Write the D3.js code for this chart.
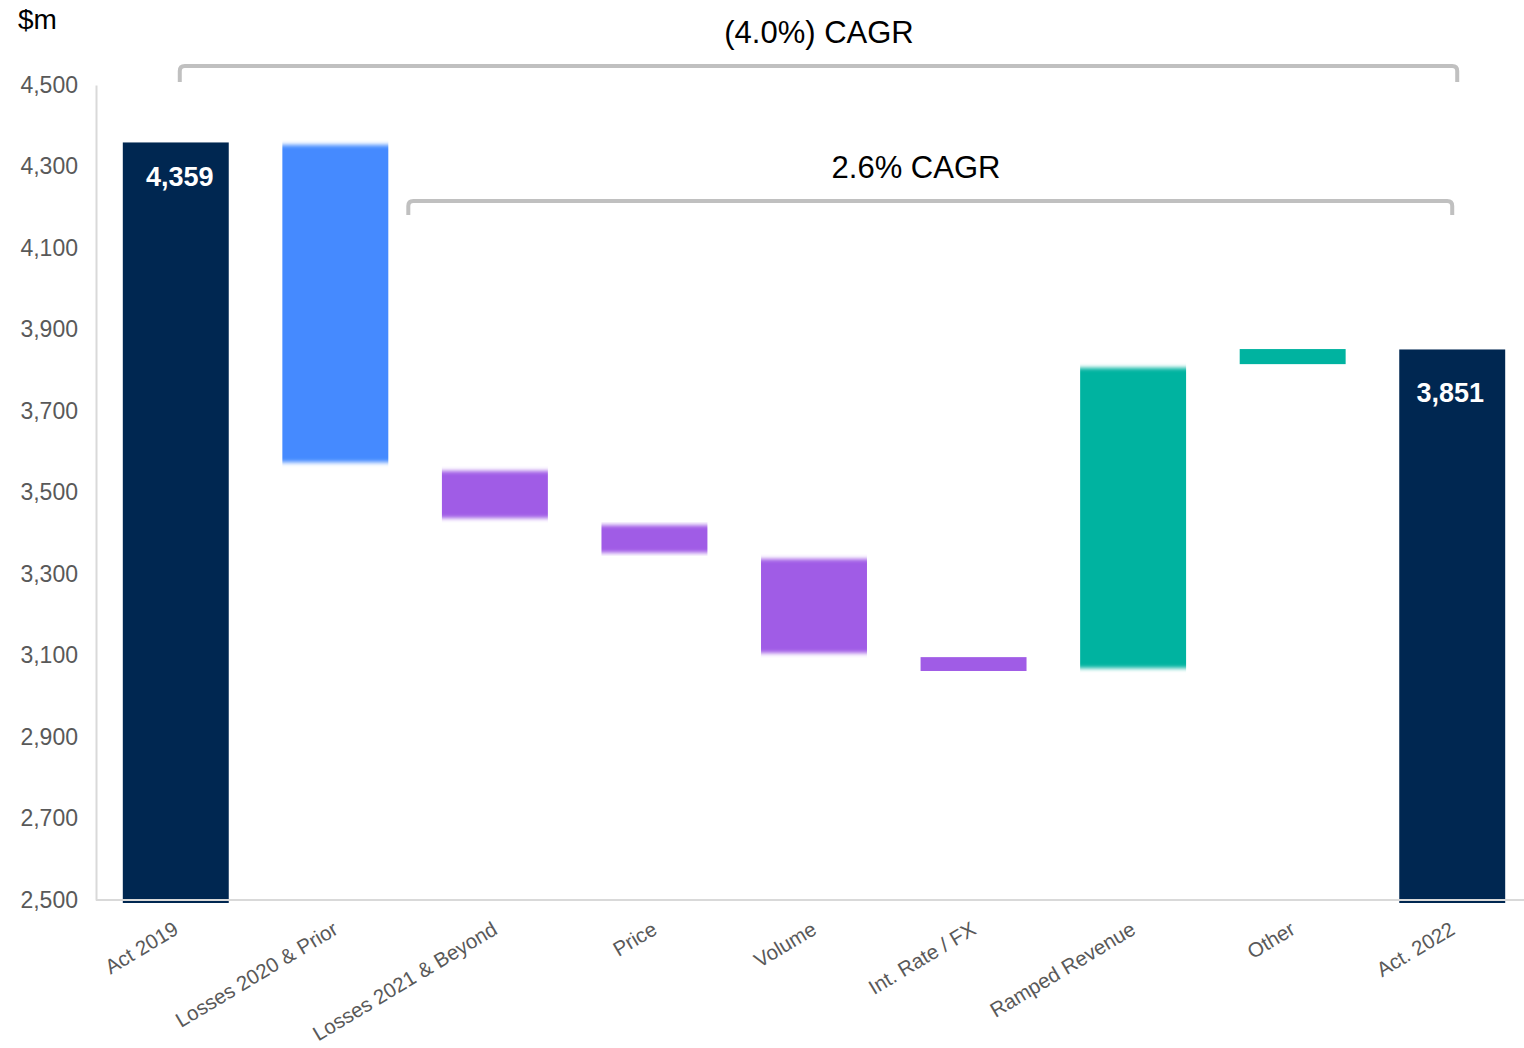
<!DOCTYPE html>
<html>
<head>
<meta charset="utf-8">
<script src="https://cdn.jsdelivr.net/npm/d3@7"></script>
<style>
  body { margin: 0; background: #fff; }
  text { font-family: "Liberation Sans", Arial, sans-serif; }
</style>
</head>
<body>
<div id="chart"></div>
<script>
// Categories and the start / end level of each bar ($m)
const categories = ["Act 2019", "Losses 2020 & Prior", "Losses 2021 & Beyond", "Price", "Volume",
                    "Int. Rate / FX", "Ramped Revenue", "Other", "Act. 2022"];
const barStart = [2500, 4353, 3553, 3420, 3337, 3096, 3069, 3815, 2500];
const barEnd   = [4359, 3574, 3437, 3352, 3106, 3062, 3806, 3852, 3851];
const barKind  = ["total", "loss", "down", "down", "down", "down", "up", "up", "total"];
const totalLabels = ["4,359", "", "", "", "", "", "", "", "3,851"];
const yTicks = [2500, 2700, 2900, 3100, 3300, 3500, 3700, 3900, 4100, 4300, 4500];
const cagrLabels = ["(4.0%) CAGR", "2.6% CAGR"];

const colors = { total: "#002751", loss: "#448AFF", down: "#A05CE6", up: "#00B3A0" };

const width = 1524;
const height = 1048;

const svg = d3.select("#chart")
    .append("svg")
    .attr("width", width)
    .attr("height", height);

// soft top/bottom edges on the floating bars
svg.append("defs").append("filter")
    .attr("id", "soft")
    .attr("x", 0).attr("y", "-10%").attr("width", 1).attr("height", "120%")
    .append("feGaussianBlur")
    .attr("stdDeviation", "0 2");

const x = d3.scaleBand()
    .domain(categories)
    .range([96, 1532])
    .paddingInner(0.336)
    .paddingOuter(0.168);

const y = d3.scaleLinear()
    .domain([2500, 4500])
    .range([900, 85]);

// Y axis
const yAxis = svg.append("g")
    .attr("transform", "translate(96,0)")
    .call(d3.axisLeft(y).tickValues(yTicks).tickSize(0).tickPadding(18).tickFormat(d3.format(",")));
yAxis.select(".domain").attr("stroke", "#d9d9d9").attr("stroke-width", 2);
yAxis.selectAll("text")
    .attr("fill", "#595959")
    .attr("font-size", "23px")
    .attr("font-family", "'Liberation Sans', Arial, sans-serif");

// Bars
const data = categories.map((c, i) => ({ cat: c, start: barStart[i], end: barEnd[i], kind: barKind[i], label: totalLabels[i] }));

svg.append("g")
    .selectAll("rect")
    .data(data)
    .enter().append("rect")
    .attr("x", d => x(d.cat))
    .attr("width", x.bandwidth())
    .attr("y", d => y(Math.max(d.start, d.end)))
    .attr("height", d => Math.abs(y(d.start) - y(d.end)) + (d.kind === "total" ? 3 : 0))
    .attr("fill", d => colors[d.kind])
    .attr("filter", d => (d.kind === "total" || d.cat === "Other" || d.cat === "Int. Rate / FX") ? null : "url(#soft)");

// X axis baseline
svg.append("line")
    .attr("x1", 96).attr("x2", 1524)
    .attr("y1", y(2500)).attr("y2", y(2500))
    .attr("stroke", "#d9d9d9")
    .attr("stroke-width", 2);

// Category labels
svg.append("g")
    .selectAll("text")
    .data(categories)
    .enter().append("text")
    .attr("transform", d => `translate(${x(d) + x.bandwidth() / 2 + 4},${y(2500) + 33}) rotate(-31)`)
    .attr("text-anchor", "end")
    .attr("font-size", "20.5px")
    .attr("fill", "#595959")
    .text(d => d);

// Total value labels
svg.append("g")
    .selectAll("text")
    .data(data.filter(d => d.label))
    .enter().append("text")
    .attr("x", d => x(d.cat) + x.bandwidth() / 2 + (d.cat === "Act 2019" ? 4 : -2))
    .attr("y", d => y(d.end) + (d.cat === "Act 2019" ? 44 : 53))
    .attr("text-anchor", "middle")
    .attr("font-size", "27px")
    .attr("font-weight", "bold")
    .attr("fill", "#fff")
    .text(d => d.label);

// Unit label
svg.append("text")
    .attr("x", 18).attr("y", 29)
    .attr("font-size", "28px")
    .attr("fill", "#000")
    .text("$m");

// CAGR brackets
function bracket(x1, x2, yTop, drop, label, labelX, labelY) {
    const r = 5;
    svg.append("path")
        .attr("d", `M${x1},${yTop + drop} V${yTop + r} Q${x1},${yTop} ${x1 + r},${yTop} H${x2 - r} Q${x2},${yTop} ${x2},${yTop + r} V${yTop + drop}`)
        .attr("fill", "none")
        .attr("stroke", "#c0c0c0")
        .attr("stroke-width", 4);
    svg.append("text")
        .attr("x", labelX).attr("y", labelY)
        .attr("text-anchor", "middle")
        .attr("font-size", "31px")
        .attr("fill", "#000")
        .text(label);
}

const firstCenter = x(categories[0]) + x.bandwidth() / 2;
const lastCenter = x(categories[8]) + x.bandwidth() / 2;
bracket(firstCenter + 4, lastCenter + 5, 66, 16, cagrLabels[0], 819, 43);
bracket(x(categories[1]) + x.bandwidth() + 20, lastCenter, 201, 14, cagrLabels[1], 916, 178);
</script>
</body>
</html>
